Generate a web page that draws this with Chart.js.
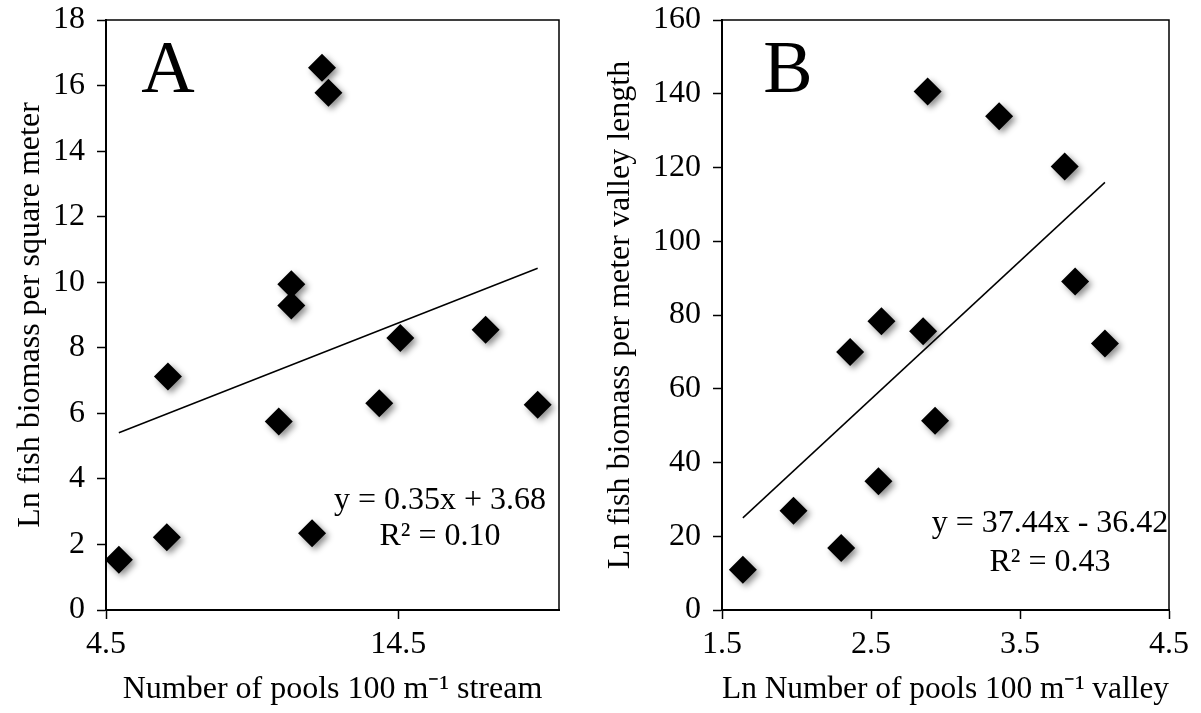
<!DOCTYPE html>
<html lang="en">
<head>
    <meta charset="UTF-8">
    <title>Fish biomass vs pools</title>
    <script src="https://cdn.jsdelivr.net/npm/chart.js"></script>
    <style>
        body { margin: 0; background: #fff; }
        canvas { position: absolute; top: 0; }
    </style>
</head>
<body>
    <canvas id="chartA" width="600" height="713" style="left:0"></canvas>
    <canvas id="chartB" width="601" height="713" style="left:600px"></canvas>

    <script>
        // Panel A: pools per 100 m stream vs ln fish biomass per m2
        const aPools = [4.94, 6.62, 6.58, 10.41, 10.84, 10.84, 11.55, 11.89, 12.11, 13.85, 14.57, 17.49, 19.27];
        const aBiomass = [1.53, 7.12, 2.22, 5.75, 9.94, 9.29, 2.34, 16.54, 15.78, 6.31, 8.30, 8.55, 6.26];
        const aSlope = 0.35;
        const aIntercept = 3.68;
        const aXTicks = [4.5, 14.5];
        const aYTicks = [0, 2, 4, 6, 8, 10, 12, 14, 16, 18];

        // Panel B: ln pools per 100 m valley vs fish biomass per m valley length
        const bPools = [1.64, 1.98, 2.30, 2.36, 2.55, 2.57, 2.85, 2.88, 2.93, 3.36, 3.80, 3.87, 4.07];
        const bBiomass = [10.9, 26.9, 16.8, 70.0, 34.9, 78.3, 75.6, 140.6, 51.3, 133.9, 120.3, 89.1, 72.3];
        const bSlope = 37.44;
        const bIntercept = -36.42;
        const bXTicks = [1.5, 2.5, 3.5, 4.5];
        const bYTicks = [0, 20, 40, 60, 80, 100, 120, 140, 160];

        const FONT = "'Liberation Serif', 'Times New Roman', serif";

        // box around plot, panel letter, equation text
        const decor = {
            id: 'decor',
            afterDraw(chart, args, opts) {
                const ctx = chart.ctx;
                const a = chart.chartArea;
                ctx.save();
                ctx.strokeStyle = '#000';
                ctx.lineWidth = 1.5;
                ctx.beginPath();
                ctx.moveTo(a.left, a.top);
                ctx.lineTo(a.right, a.top);
                ctx.lineTo(a.right, a.bottom);
                ctx.stroke();
                ctx.fillStyle = '#000';
                ctx.textAlign = 'center';
                ctx.textBaseline = 'alphabetic';
                ctx.font = '74px ' + FONT;
                ctx.fillText(opts.letter, opts.letterX, 92);
                ctx.textBaseline = 'middle';
                ctx.font = '32px ' + FONT;
                ctx.fillText(opts.eq, opts.eqX, opts.eqY[0]);
                ctx.fillText(opts.r2, opts.eqX, opts.eqY[1]);
                ctx.restore();
            }
        };

        // soft shadow under the diamonds
        const shadow = {
            id: 'shadow',
            beforeDatasetDraw(chart, args) {
                if (args.index !== 0) return;
                const ctx = chart.ctx;
                ctx.save();
                ctx.shadowColor = 'rgba(0,0,0,0.45)';
                ctx.shadowBlur = 6;
                ctx.shadowOffsetX = 3;
                ctx.shadowOffsetY = 3;
            },
            afterDatasetDraw(chart, args) {
                if (args.index === 0) chart.ctx.restore();
            }
        };

        function makePanel(id, xs, ys, slope, intercept, p) {
            const pts = xs.map((x, i) => ({ x: x, y: ys[i] }));
            const x0 = Math.min(...xs), x1 = Math.max(...xs);
            const fit = [
                { x: x0, y: slope * x0 + intercept },
                { x: x1, y: slope * x1 + intercept }
            ];
            const tickFont = { family: FONT, size: 32 };
            return new Chart(document.getElementById(id), {
                type: 'scatter',
                data: {
                    datasets: [
                        {
                            data: pts,
                            pointStyle: 'rectRot',
                            pointRadius: 14,
                            backgroundColor: '#000',
                            borderColor: '#000',
                            borderWidth: 0,
                            clip: false
                        },
                        {
                            type: 'line',
                            data: fit,
                            borderColor: '#000',
                            borderWidth: 1.5,
                            pointRadius: 0,
                            fill: false
                        }
                    ]
                },
                options: {
                    responsive: false,
                    animation: false,
                    devicePixelRatio: 1,
                    layout: { padding: { left: 0, top: 20, right: p.padRight, bottom: 0 } },
                    plugins: {
                        legend: { display: false },
                        tooltip: { enabled: false },
                        decor: p.decor
                    },
                    scales: {
                        x: {
                            type: 'linear',
                            min: p.xMin,
                            max: p.xMax,
                            afterBuildTicks: s => { s.ticks = p.xTicks.map(v => ({ value: v })); },
                            afterFit: s => { s.height = 103; s.paddingLeft = 0; s.paddingRight = 0; },
                            border: { color: '#000', width: 2 },
                            grid: { drawOnChartArea: false, color: '#000', tickLength: 9, tickWidth: 1.5 },
                            ticks: { color: '#000', font: tickFont, padding: 6, maxRotation: 0, callback: v => String(v) },
                            title: { display: true, text: p.xTitle, color: '#000', font: tickFont, padding: { top: 0, bottom: 4 } }
                        },
                        y: {
                            min: p.yTicks[0],
                            max: p.yTicks[p.yTicks.length - 1],
                            afterBuildTicks: s => { s.ticks = p.yTicks.map(v => ({ value: v })); },
                            afterFit: s => { s.width = p.yWidth; s.paddingTop = 0; s.paddingBottom = 0; },
                            border: { color: '#000', width: 2 },
                            grid: { drawOnChartArea: false, color: '#000', tickLength: 9, tickWidth: 1.5 },
                            ticks: { color: '#000', font: tickFont, padding: 12, callback: v => String(v) },
                            title: { display: true, text: p.yTitle, color: '#000', font: tickFont, padding: { top: p.yTitlePad, bottom: 0 } }
                        }
                    }
                },
                plugins: [shadow, decor]
            });
        }

        makePanel('chartA', aPools, aBiomass, aSlope, aIntercept, {
            xMin: 4.5, xMax: 20, xTicks: aXTicks, yTicks: aYTicks,
            yWidth: 106, padRight: 41, yTitlePad: 11,
            xTitle: 'Number of pools 100 m⁻¹ stream',
            yTitle: 'Ln fish biomass per square meter',
            decor: { letter: 'A', letterX: 168, eq: 'y = 0.35x + 3.68', r2: 'R² = 0.10', eqX: 440, eqY: [501, 537] }
        });

        makePanel('chartB', bPools, bBiomass, bSlope, bIntercept, {
            xMin: 1.5, xMax: 4.5, xTicks: bXTicks, yTicks: bYTicks,
            yWidth: 122, padRight: 32, yTitlePad: 1,
            xTitle: 'Ln Number of pools 100 m⁻¹ valley',
            yTitle: 'Ln fish biomass per meter valley length',
            decor: { letter: 'B', letterX: 188, eq: 'y = 37.44x - 36.42', r2: 'R² = 0.43', eqX: 450, eqY: [524, 563] }
        });
    </script>
</body>
</html>
